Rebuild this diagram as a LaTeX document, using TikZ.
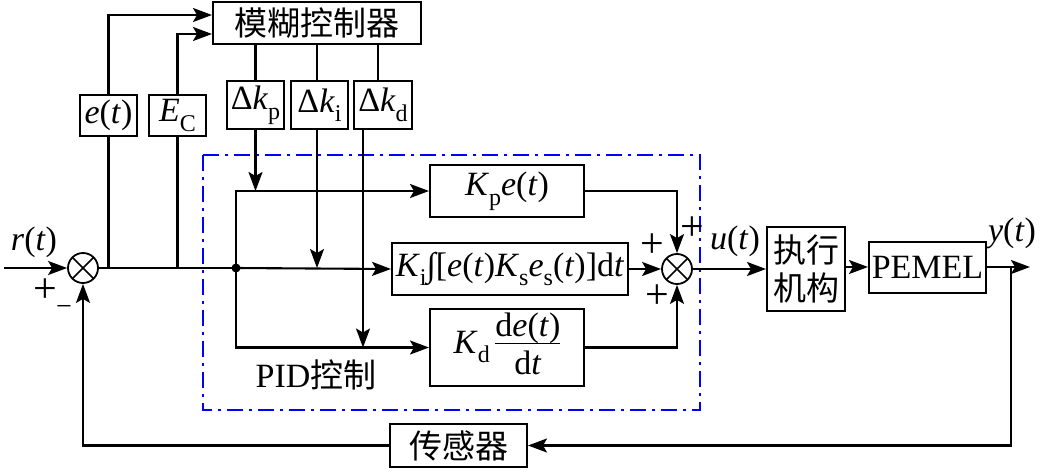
\documentclass[tikz,border=0pt]{standalone}
\usepackage{fontspec}
\setmainfont{Liberation Serif}
\newfontfamily\cjk{Noto Sans CJK SC}
\usetikzlibrary{arrows.meta}
\newcommand{\sbs}[1]{\raisebox{-0.28em}{\fontsize{24}{24}\selectfont #1}}
\newcommand{\iv}[1]{\textit{#1}}
\begin{document}
\begin{tikzpicture}[x=1pt,y=-1pt,
  font=\fontsize{34}{40}\selectfont,
  line width=2.1pt,
  arr/.style={-{Stealth[length=19pt,width=14pt,inset=4pt]}},
  blk/.style={draw,line width=2pt,inner sep=0pt},
  cjkf/.style={font=\cjk\fontsize{33}{38}\selectfont},
  sumj/.style={circle,draw,line width=1.8pt,minimum size=30pt,inner sep=0pt,
    path picture={\draw[line width=1.6pt] (path picture bounding box.north east)--(path picture bounding box.south west)
      (path picture bounding box.north west)--(path picture bounding box.south east);}},
  lbl/.style={inner sep=0pt},
  pls/.style={inner sep=0pt,font=\fontsize{42}{42}\selectfont}]
\useasboundingbox (0,0) rectangle (1041,471);
% blocks
\node[blk,cjkf,minimum width=208pt,minimum height=42pt] (fz) at (317,23) {模糊控制器};
\node[blk,minimum width=57pt,minimum height=41pt] (et) at (108.5,115.5) {\iv{e}(\iv{t})};
\node[blk,minimum width=57pt,minimum height=41pt] (ec) at (177.5,115.5) {\iv{E}\sbs{C}};
\node[blk,minimum width=57pt,minimum height=48pt] (dkp) at (255.5,105) {Δ\iv{k}\sbs{p}};
\node[blk,minimum width=57pt,minimum height=48pt] (dki) at (319.5,105) {Δ\iv{k}\sbs{i}};
\node[blk,minimum width=58pt,minimum height=48pt] (dkd) at (383,105) {Δ\iv{k}\sbs{d}};
\node[blk,minimum width=154pt,minimum height=52pt] (kp) at (507,191) {\iv{K}\sbs{p}\iv{e}(\iv{t})};
\node[blk,minimum width=236pt,minimum height=52pt] (ki) at (510,269) {\iv{K}\sbs{i}∫[\iv{e}(\iv{t})\iv{K}\sbs{s}\iv{e}\sbs{s}(\iv{t})]d\iv{t}};
\node[blk,minimum width=154pt,minimum height=73pt] (kd) at (507,347.5) {\iv{K}\sbs{d}\,\raisebox{-0.02em}{\begin{tabular}{@{}c@{}}d\iv{e}(\iv{t})\\[-6pt]\hline\rule{0pt}{31pt}d\iv{t}\end{tabular}}};
\node[blk,cjkf,align=center,minimum width=78pt,minimum height=84pt] (act) at (806,269) {执行\\机构};
\node[blk,minimum width=117pt,minimum height=51pt] (pem) at (927.5,267) {PEMEL};
\node[blk,cjkf,minimum width=137pt,minimum height=43pt] (sen) at (458.5,445.5) {传感器};
\node[sumj] (s1) at (83,268) {};
\node[sumj] (s2) at (677,269) {};
% dashed PID box
\draw[blue,line width=1.8pt,dash pattern=on 16pt off 6pt on 3pt off 6pt] (203,155) rectangle (700,410);
% coordinates
\coordinate (rin) at (4,268);
\coordinate (br) at (236,268);
\coordinate (yout) at (1030,267);
\coordinate (fb) at (1011,267);
% connectors
\draw[arr] (rin) -- (s1);
\draw (s1.east) -- (br);
\draw[arr] (br) -- (ki.west);
\fill (br) circle (4.5pt);
\draw[arr] (et.north) |- ([yshift=8pt]fz.west);
\draw (et.south) -- (et.south |- br);
\draw[arr] (ec.north) |- ([yshift=-11pt]fz.west);
\draw (ec.south) -- (ec.south |- br);
\draw (fz.south -| dkp.north) -- (dkp.north);
\draw ([xshift=-2.5pt]fz.south -| dki.north) -- ([xshift=-2.5pt]dki.north);
\draw ([xshift=-5pt]fz.south -| dkd.north) -- ([xshift=-5pt]dkd.north);
\draw[arr] (dkp.south) -- (dkp.south |- kp.west);
\draw[arr] ([xshift=-2.5pt]dki.south) -- ([xshift=-2.5pt]dki.south |- br);
\draw[arr] ([xshift=-20pt]dkd.south) -- ([xshift=-20pt]dkd.south |- kd.west);
\draw[arr] (br) |- (kp.west);
\draw[arr] (br) |- (kd.west);
\draw[arr] (kp.east) -| (s2.north);
\draw[arr] (kd.east) -| (s2.south);
\draw[arr] (ki.east) -- (s2.west);
\draw[arr] (s2.east) -- (act.west |- s2.east);
\draw[arr] (act.east |- pem.west) -- (pem.west);
\draw[arr] (pem.east) -- (yout);
\draw[arr] (fb) |- (sen.east);
\draw[arr] (sen.west) -| (s1.south);
% labels
\node[lbl] (lr) at (34,242) {\iv{r}(\iv{t})};
\node[pls] (lp1) at (45,291) {+};
\node[lbl,font=\fontsize{28}{28}\selectfont] (lm1) at (64,310) {−};
\node[pls] (lp2) at (692,229) {+};
\node[pls] (lp3) at (652,246) {+};
\node[pls] (lp4) at (657,297) {+};
\node[lbl] (lu) at (735,241) {\iv{u}(\iv{t})};
\node[lbl] (ly) at (1012,233) {\iv{y}(\iv{t})};
\node[lbl] (lpid) at (316,375) {PID{\cjk\fontsize{33}{33}\selectfont 控制}};
\end{tikzpicture}
\end{document}
